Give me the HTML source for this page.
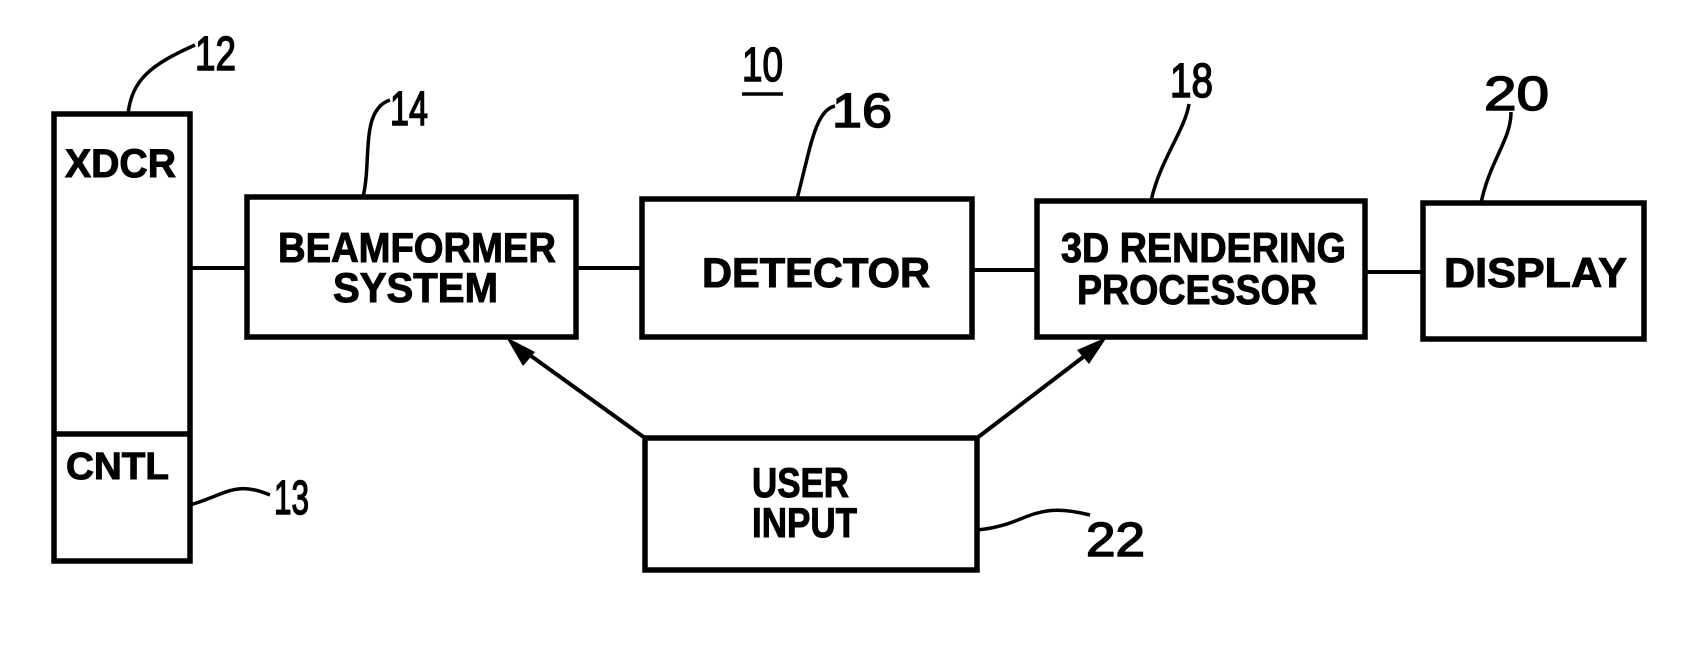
<!DOCTYPE html>
<html><head><style>html,body{margin:0;padding:0;background:#fff}svg{display:block}</style></head>
<body>
<svg width="1700" height="657" viewBox="0 0 1700 657" xmlns="http://www.w3.org/2000/svg">
<g fill="none" stroke="#000" stroke-width="5.5">
<rect x="54" y="114" width="136" height="447"/>
<line x1="54" y1="434" x2="190" y2="434"/>
<rect x="247" y="197" width="329" height="140"/>
<rect x="642" y="199" width="330" height="138"/>
<rect x="1037" y="201" width="328" height="136"/>
<rect x="1423" y="203" width="221" height="136"/>
<rect x="645" y="438" width="332" height="132"/>
<g stroke-width="4">
<line x1="190" y1="268" x2="247" y2="268"/>
<line x1="576" y1="268" x2="642" y2="268"/>
<line x1="972" y1="270" x2="1037" y2="270"/>
<line x1="1365" y1="272" x2="1423" y2="272"/>
<line x1="645" y1="438" x2="520" y2="348"/>
<line x1="977" y1="438" x2="1095" y2="348"/>
</g>
<g stroke-width="3.5">
<path d="M128 114 C132 80 150 65 195 45"/>
<path d="M363 197 C372 160 360 110 390 100"/>
<path d="M797 199 C810 150 815 110 835 106"/>
<path d="M1151 201 C1160 160 1185 130 1189 104"/>
<path d="M1481 203 C1490 160 1511 140 1511 112"/>
<path d="M190 505 C225 495 235 480 270 495"/>
<path d="M977 530 C1030 525 1030 500 1090 515"/>
<line x1="742" y1="94" x2="783" y2="94"/>
</g>
</g>
<polygon points="506,337 535,352 523,366" fill="#000"/>
<polygon points="1107,337 1089,364 1077,350" fill="#000"/>
<g font-family="Liberation Sans, sans-serif" font-weight="bold" fill="#000" stroke="#000" stroke-width="1">
<text x="65" y="177" font-size="40" textLength="111" lengthAdjust="spacingAndGlyphs">XDCR</text>
<text x="66" y="479" font-size="38" textLength="103" lengthAdjust="spacingAndGlyphs">CNTL</text>
<text x="278" y="262" font-size="42" textLength="278" lengthAdjust="spacingAndGlyphs">BEAMFORMER</text>
<text x="333" y="302" font-size="42" textLength="165" lengthAdjust="spacingAndGlyphs">SYSTEM</text>
<text x="702" y="287" font-size="42" textLength="228" lengthAdjust="spacingAndGlyphs">DETECTOR</text>
<text x="1061" y="262" font-size="42" textLength="285" lengthAdjust="spacingAndGlyphs">3D RENDERING</text>
<text x="1077" y="304" font-size="42" textLength="240" lengthAdjust="spacingAndGlyphs">PROCESSOR</text>
<text x="1444" y="287" font-size="42" textLength="183" lengthAdjust="spacingAndGlyphs">DISPLAY</text>
<text x="752" y="497" font-size="42" textLength="97" lengthAdjust="spacingAndGlyphs">USER</text>
<text x="752" y="537" font-size="42" textLength="105" lengthAdjust="spacingAndGlyphs">INPUT</text>
</g>
<g font-family="Liberation Sans, sans-serif" fill="#000" stroke="#000" stroke-width="1.5" font-size="48">
<text x="195" y="70" textLength="41" lengthAdjust="spacingAndGlyphs">12</text>
<text x="390" y="125" textLength="38" lengthAdjust="spacingAndGlyphs">14</text>
<text x="742" y="81" textLength="41" lengthAdjust="spacingAndGlyphs">10</text>
<text x="832" y="127" textLength="60" lengthAdjust="spacingAndGlyphs">16</text>
<text x="1170" y="97" textLength="43" lengthAdjust="spacingAndGlyphs">18</text>
<text x="1484" y="110" textLength="65" lengthAdjust="spacingAndGlyphs">20</text>
<text x="274" y="514" textLength="35" lengthAdjust="spacingAndGlyphs">13</text>
<text x="1086" y="556" textLength="59" lengthAdjust="spacingAndGlyphs">22</text>
</g>
</svg>
</body></html>
